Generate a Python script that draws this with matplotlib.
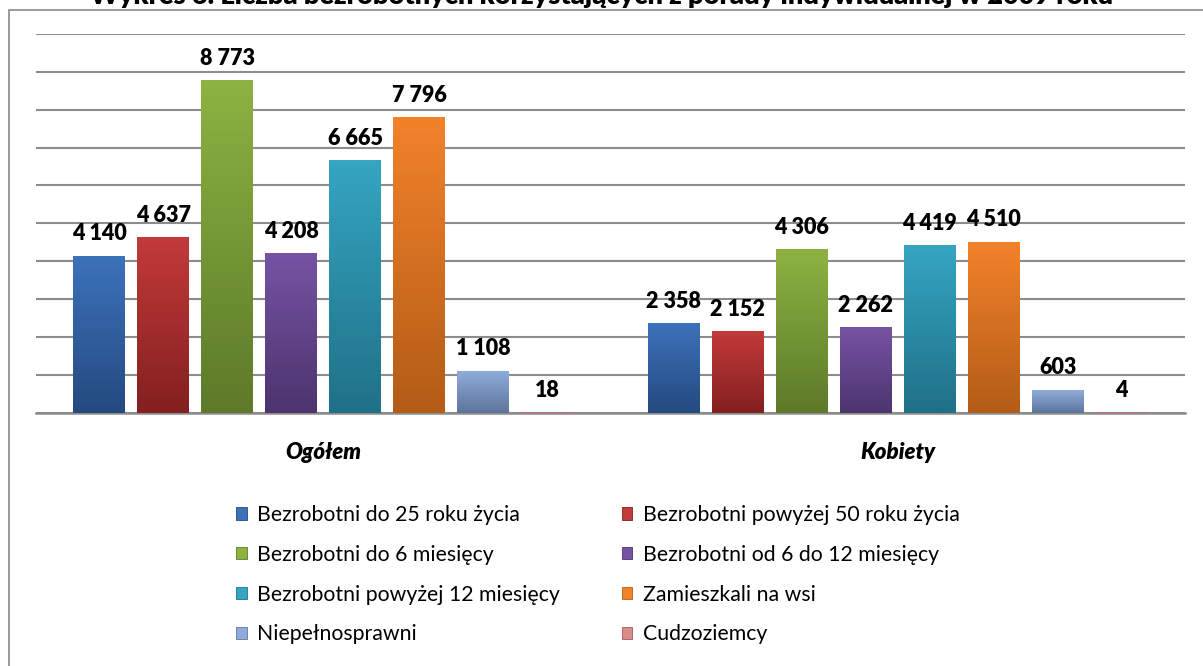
import matplotlib
matplotlib.use("Agg")
import matplotlib.colors as mcolors
import matplotlib.patches as mpatches
import matplotlib.pyplot as plt
import numpy as np


TITLE = "Wykres 6. Liczba bezrobotnych korzystających z porady indywidualnej w 2009 roku"

groups = ["Ogółem", "Kobiety"]
series = [
    "Bezrobotni do 25 roku życia",
    "Bezrobotni powyżej 50 roku życia",
    "Bezrobotni do 6 miesięcy",
    "Bezrobotni od 6 do 12 miesięcy",
    "Bezrobotni powyżej 12 miesięcy",
    "Zamieszkali na wsi",
    "Niepełnosprawni",
    "Cudzoziemcy",
]
ogolem = [4140, 4637, 8773, 4208, 6665, 7796, 1108, 18]
kobiety = [2358, 2152, 4306, 2262, 4419, 4510, 603, 4]

# (top, bottom) of the gradient fill for every series
colors = [
    ("#3c72ba", "#244a80"),
    ("#c23a3a", "#83201f"),
    ("#8db241", "#5d7a2a"),
    ("#7653a3", "#4c346e"),
    ("#35a5c2", "#1f7187"),
    ("#f2822a", "#b35c17"),
    ("#8eabdb", "#5d759c"),
    ("#d98d8b", "#a35857"),
]

GRID = "#8c8c8c"


def fmt(v):
    return f"{v:,}".replace(",", " ")


def main():
    plt.rcParams["font.family"] = ["Lato", "DejaVu Sans"]

    fig = plt.figure(figsize=(12.03, 6.66), dpi=100)
    ax = fig.add_axes([36 / 1203, 1 - 412.7 / 666, 1149 / 1203, (412.7 - 34) / 666])

    slot = 64 / 574.5
    width = 52 / 574.5
    values = np.array([ogolem, kobiety])
    x = np.arange(len(groups))

    for j, name in enumerate(series):
        xs = x + (j - (len(series) - 1) / 2) * slot
        bars = ax.bar(xs, values[:, j], width, color="none", linewidth=0, zorder=3)
        top, bottom = colors[j]
        cmap = mcolors.LinearSegmentedColormap.from_list(f"g{j}", [bottom, top])
        grad = np.linspace(0, 1, 64).reshape(-1, 1)
        for rect, v in zip(bars, values[:, j]):
            x0 = rect.get_x()
            ax.imshow(grad, extent=[x0, x0 + width, 0, v], origin="lower",
                      aspect="auto", cmap=cmap, zorder=3, interpolation="bilinear")
            ax.annotate(fmt(v), (x0 + width / 2, v), xytext=(0, 22),
                        textcoords="offset pixels", ha="center", va="center",
                        fontsize=15.5, fontweight="heavy", color="black")

    ax.set_xlim(-0.5, 1.5)
    ax.set_ylim(0, 10000)
    ax.set_yticks(np.arange(0, 10001, 1000))
    ax.yaxis.grid(True, color=GRID, linewidth=1.5)
    ax.set_axisbelow(True)
    ax.tick_params(axis="y", length=0, labelleft=False)
    ax.tick_params(axis="x", length=0, pad=21)
    ax.set_xticks(x)
    ax.set_xticklabels(groups, fontsize=16, fontweight="heavy", fontstyle="italic")
    for side in ["left", "top", "right"]:
        ax.spines[side].set_visible(False)
    ax.spines["bottom"].set_color(GRID)
    ax.spines["bottom"].set_linewidth(1.8)

    order = [0, 2, 4, 6, 1, 3, 5, 7]
    handles = [mpatches.Patch(facecolor=colors[i][0], edgecolor=colors[i][1], linewidth=0.6)
               for i in order]
    labels = [series[i] for i in order]
    fig.legend(
        handles, labels,
        loc="upper left",
        bbox_to_anchor=(236 / 1203, 1 - 505 / 666),
        ncol=2,
        frameon=False,
        fontsize=15.3,
        handlelength=0.5,
        handleheight=0.5,
        handletextpad=0.5,
        columnspacing=2.9,
        labelspacing=0.93,
        borderpad=0,
        borderaxespad=0,
    )

    fig.text(0.5, 1 - 4 / 666, TITLE, ha="center", va="baseline",
             fontsize=19.5, fontweight="heavy")

    frame = mpatches.Rectangle((9 / 1203, -0.1), 1.2, 1.1 - 10 / 666,
                               transform=fig.transFigure, fill=False,
                               edgecolor="#8a8a8a", linewidth=1.2)
    fig.patches.append(frame)

    fig.savefig("out.png", dpi=100)


if __name__ == "__main__":
    main()
